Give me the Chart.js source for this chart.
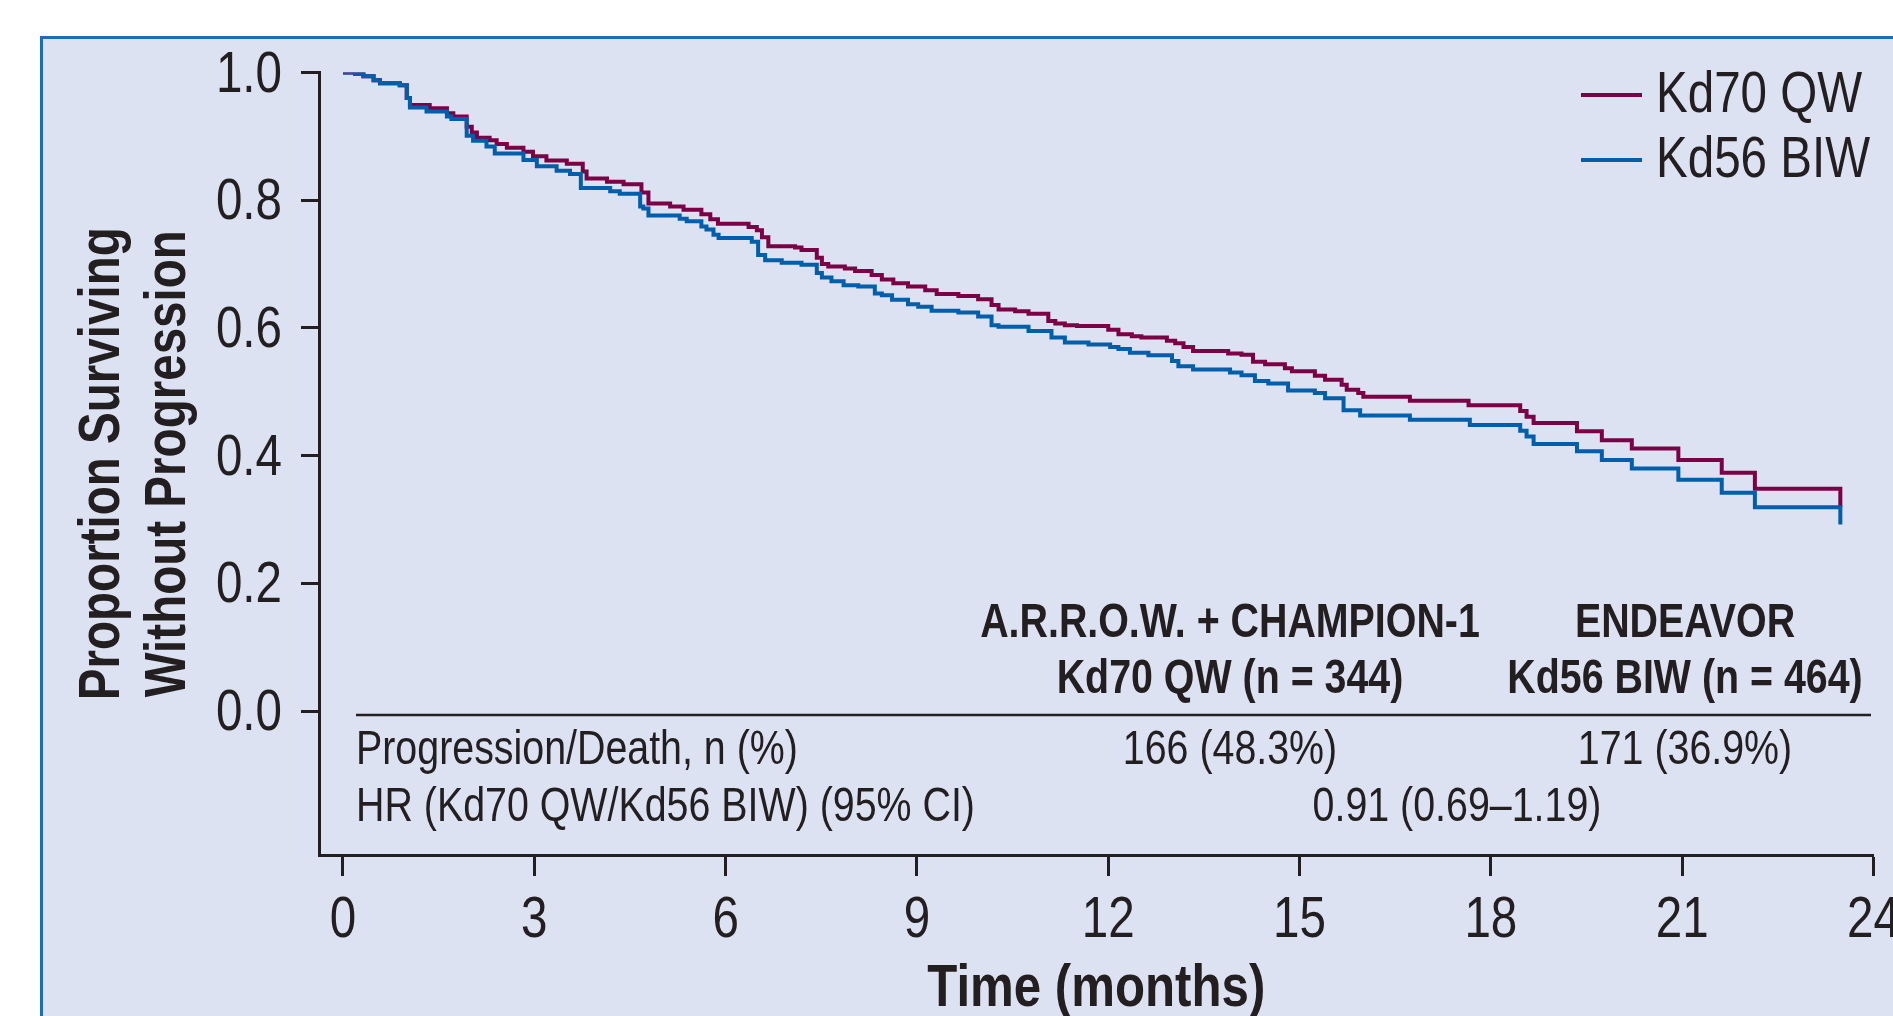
<!DOCTYPE html>
<html>
<head>
<meta charset="utf-8">
<script src="https://cdn.jsdelivr.net/npm/chart.js@4/dist/chart.umd.min.js"></script>
<style>
html,body{margin:0;padding:0;background:#ffffff;overflow:hidden}
canvas{display:block}
</style>
</head>
<body>
<canvas id="km" width="1893" height="1016"></canvas>
<script>
// ---------------- data ----------------
const seriesNames = ['Kd70 QW', 'Kd56 BIW'];

const kd70Months = [0, 0.19, 0.32, 0.48, 0.58, 0.89, 1.00, 1.05, 1.36, 1.63, 1.73, 1.94, 2.02, 2.10, 2.30, 2.41, 2.57, 2.83, 2.98, 3.19, 3.51, 3.76, 3.82, 4.14, 4.40, 4.68, 4.79, 5.13, 5.34, 5.62, 5.76, 5.88, 6.36, 6.49, 6.57, 6.67, 7.09, 7.19, 7.43, 7.51, 7.61, 7.87, 8.03, 8.29, 8.45, 8.63, 8.86, 9.13, 9.31, 9.65, 9.96, 10.17, 10.28, 10.54, 10.75, 11.06, 11.17, 11.32, 11.51, 12.00, 12.16, 12.37, 12.52, 12.92, 13.05, 13.18, 13.33, 13.88, 14.09, 14.27, 14.46, 14.77, 14.88, 15.24, 15.40, 15.66, 15.74, 15.92, 16.00, 16.73, 17.65, 18.46, 18.56, 18.67, 19.35, 19.74, 20.21, 20.94, 21.62, 22.14, 23.48];
const kd70Survival = [1.000, 0.998, 0.994, 0.988, 0.983, 0.980, 0.960, 0.949, 0.944, 0.936, 0.931, 0.915, 0.906, 0.898, 0.894, 0.888, 0.882, 0.876, 0.869, 0.862, 0.857, 0.845, 0.834, 0.829, 0.825, 0.812, 0.795, 0.790, 0.785, 0.778, 0.770, 0.763, 0.758, 0.753, 0.742, 0.728, 0.726, 0.722, 0.710, 0.700, 0.696, 0.693, 0.689, 0.683, 0.676, 0.670, 0.665, 0.659, 0.653, 0.650, 0.645, 0.636, 0.629, 0.626, 0.622, 0.611, 0.607, 0.604, 0.603, 0.597, 0.590, 0.587, 0.585, 0.580, 0.576, 0.570, 0.564, 0.560, 0.558, 0.547, 0.543, 0.537, 0.532, 0.525, 0.519, 0.511, 0.503, 0.498, 0.492, 0.486, 0.479, 0.470, 0.461, 0.451, 0.438, 0.424, 0.411, 0.393, 0.373, 0.348, 0.319];

const kd56Months = [0, 0.19, 0.32, 0.48, 0.58, 0.89, 1.00, 1.05, 1.31, 1.63, 1.70, 1.94, 2.04, 2.25, 2.38, 2.83, 3.04, 3.35, 3.56, 3.73, 4.19, 4.34, 4.66, 4.71, 4.79, 5.28, 5.39, 5.62, 5.70, 5.81, 5.89, 6.41, 6.51, 6.62, 6.88, 7.19, 7.43, 7.51, 7.66, 7.85, 8.08, 8.34, 8.45, 8.61, 8.86, 9.02, 9.23, 9.65, 9.96, 10.17, 10.28, 10.75, 11.11, 11.32, 11.69, 12.03, 12.16, 12.34, 12.63, 13.00, 13.10, 13.33, 13.91, 14.09, 14.30, 14.51, 14.82, 15.24, 15.40, 15.69, 15.95, 16.73, 17.67, 18.46, 18.56, 18.67, 19.35, 19.74, 20.21, 20.94, 21.62, 22.14, 23.48];
const kd56Survival = [1.000, 0.998, 0.994, 0.988, 0.983, 0.980, 0.960, 0.945, 0.939, 0.931, 0.927, 0.901, 0.893, 0.884, 0.873, 0.863, 0.853, 0.846, 0.841, 0.819, 0.814, 0.810, 0.790, 0.787, 0.776, 0.771, 0.767, 0.759, 0.754, 0.746, 0.741, 0.735, 0.714, 0.706, 0.702, 0.699, 0.686, 0.679, 0.673, 0.667, 0.665, 0.654, 0.651, 0.644, 0.637, 0.633, 0.627, 0.624, 0.618, 0.604, 0.602, 0.595, 0.585, 0.577, 0.574, 0.570, 0.567, 0.561, 0.557, 0.548, 0.540, 0.535, 0.530, 0.526, 0.517, 0.513, 0.502, 0.498, 0.490, 0.471, 0.463, 0.456, 0.448, 0.439, 0.430, 0.418, 0.407, 0.393, 0.380, 0.362, 0.342, 0.319, 0.292];

const xTickValues = [0, 3, 6, 9, 12, 15, 18, 21, 24];
const xTickLabels = ['0', '3', '6', '9', '12', '15', '18', '21', '24'];
const yTickValues = [0, 0.2, 0.4, 0.6, 0.8, 1.0];
const yTickLabels = ['0.0', '0.2', '0.4', '0.6', '0.8', '1.0'];

const xAxisTitle = 'Time (months)';
const yAxisTitle = ['Proportion Surviving', 'Without Progression'];

const tableHeadTop = ['A.R.R.O.W. + CHAMPION-1', 'ENDEAVOR'];
const tableHeadBottom = ['Kd70 QW (n = 344)', 'Kd56 BIW (n = 464)'];
const tableRowLabels = ['Progression/Death, n (%)', 'HR (Kd70 QW/Kd56 BIW) (95% CI)'];
const progressionDeath = ['166 (48.3%)', '171 (36.9%)'];
const hazardRatio = '0.91 (0.69\u20131.19)';

// ---------------- style ----------------
const FAM = "'Liberation Sans', Arial, Helvetica, sans-serif";
const NARROW = 0.82;   // condensed look (Helvetica Condensed) by horizontal squeeze
const INK = '#231f20';
const RED = '#7b0046';
const BLUE = '#005eab';
const PANEL = '#dce2f1';
const FRAME = '#1c6db6';

Chart.defaults.font.family = FAM;
Chart.defaults.color = INK;

const canvas = document.getElementById('km');
const ctx = canvas.getContext('2d');
// squeeze every text run horizontally around its anchor point (keeps alignment)
const rawFillText = ctx.fillText.bind(ctx);
ctx.fillText = function (text, x, y) {
  this.save();
  this.translate(x, y);
  this.scale(NARROW, 1);
  rawFillText(text, 0, 0);
  this.restore();
};

const toPoints = (xs, ys) => xs.map((x, i) => ({x: x, y: ys[i]}));

const decor = {
  id: 'decor',
  beforeDraw(chart) {
    const c = chart.ctx;
    c.save();
    c.fillStyle = '#ffffff';
    c.fillRect(0, 0, chart.width, chart.height);
    c.fillStyle = PANEL;
    c.fillRect(42, 37, chart.width, chart.height);
    c.strokeStyle = FRAME;
    c.lineWidth = 3;
    c.strokeRect(41.5, 37.5, chart.width + 20, chart.height + 20);
    c.restore();
  },
  afterDraw(chart) {
    const c = chart.ctx;
    c.save();
    // legend
    const colors = [RED, BLUE];
    const ly = [95, 160];
    c.font = '58px ' + FAM;
    c.textBaseline = 'middle';
    c.textAlign = 'left';
    seriesNames.forEach((name, i) => {
      c.strokeStyle = colors[i];
      c.lineWidth = 4;
      c.beginPath();
      c.moveTo(1581, ly[i]);
      c.lineTo(1642, ly[i]);
      c.stroke();
      c.fillStyle = INK;
      c.fillText(name, 1656, ly[i] + 1);
    });
    // table
    const colX = [1230, 1685];
    c.fillStyle = INK;
    c.textAlign = 'center';
    c.font = 'bold 48px ' + FAM;
    tableHeadTop.forEach((t, i) => c.fillText(t, colX[i], 624));
    tableHeadBottom.forEach((t, i) => c.fillText(t, colX[i], 680));
    c.strokeStyle = INK;
    c.lineWidth = 2.5;
    c.beginPath();
    c.moveTo(356, 715);
    c.lineTo(1871, 715);
    c.stroke();
    c.font = '48px ' + FAM;
    c.textAlign = 'left';
    c.fillText(tableRowLabels[0], 356, 751);
    c.fillText(tableRowLabels[1], 356, 808);
    c.textAlign = 'center';
    progressionDeath.forEach((t, i) => c.fillText(t, colX[i], 751));
    c.fillText(hazardRatio, 1457, 808);
    c.restore();
  }
};

new Chart(canvas, {
  type: 'line',
  data: {
    datasets: [
      {
        label: seriesNames[0],
        data: toPoints(kd70Months, kd70Survival),
        borderColor: RED,
        borderWidth: 4,
        pointRadius: 0,
        stepped: true,
        fill: false,
        order: 1
      },
      {
        label: seriesNames[1],
        data: toPoints(kd56Months, kd56Survival),
        borderColor: BLUE,
        borderWidth: 4,
        pointRadius: 0,
        stepped: true,
        fill: false,
        order: 0
      }
    ]
  },
  options: {
    responsive: false,
    animation: false,
    devicePixelRatio: 1,
    layout: {padding: {left: 0, top: 72.5, right: 19.5, bottom: 0}},
    plugins: {legend: {display: false}, title: {display: false}, tooltip: {enabled: false}},
    scales: {
      x: {
        type: 'linear',
        min: -0.376,
        max: 24,
        afterBuildTicks: (s) => { s.ticks = xTickValues.map(v => ({value: v})); },
        afterFit: (s) => { s.height = 161; s.paddingLeft = 0; s.paddingRight = 0; },
        ticks: {
          autoSkip: false,
          maxRotation: 0,
          padding: 10,
          font: {size: 58},
          color: INK,
          callback: (v, i) => xTickLabels[i]
        },
        grid: {drawOnChartArea: false, drawTicks: true, tickLength: 21, tickWidth: 3, tickColor: INK},
        border: {display: true, color: INK, width: 3},
        title: {display: true, text: xAxisTitle, font: {size: 60, weight: 'bold', lineHeight: 1}, color: INK, padding: {top: 0, bottom: -3}}
      },
      y: {
        type: 'linear',
        min: -0.2255,
        max: 1.0,
        afterBuildTicks: (s) => { s.ticks = yTickValues.map(v => ({value: v})); },
        afterFit: (s) => { s.width = 319; s.paddingTop = 0; s.paddingBottom = 0; },
        ticks: {
          autoSkip: false,
          padding: 19,
          labelOffset: 3,
          font: {size: 58},
          color: INK,
          callback: (v, i) => yTickLabels[i]
        },
        grid: {drawOnChartArea: false, drawTicks: true, tickLength: 18, tickWidth: 3, tickColor: INK},
        border: {display: true, color: INK, width: 3},
        title: {display: true, text: yAxisTitle, font: {size: 58, weight: 'bold', lineHeight: '66px'}, color: INK, padding: {top: 70, bottom: 0}}
      }
    }
  },
  plugins: [decor]
});
</script>
</body>
</html>
